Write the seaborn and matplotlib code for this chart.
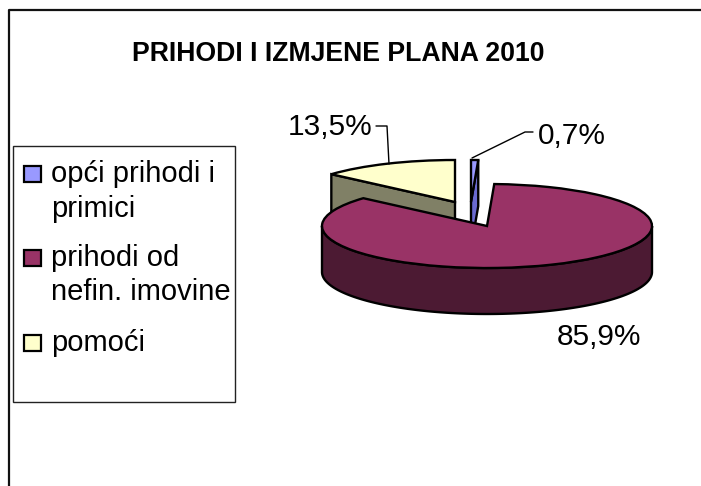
import numpy as np
import matplotlib.pyplot as plt
import seaborn as sns
from matplotlib.patches import Rectangle

sns.set_theme(style='white')
plt.rcParams['font.family'] = ['Liberation Sans', 'DejaVu Sans']

categories = ['opći prihodi i', 'primici', 'prihodi od', 'nefin. imovine', 'pomoći']
legend_colors = ['#9999ff', None, '#993366', None, '#ffffcc']
values = [0.7, 85.9, 13.5]
value_labels = ['0,7%', '85,9%', '13,5%']
top_colors = ['#9999ff', '#993366', '#ffffcc']
wall_colors = ['#6a6ad0', '#4c1a33', '#808066']

W, H = 701, 486
# pie centre and radii in pixels, side height of the 3d look
CX, CY, RX, RY, DEPTH = 487, 226, 165, 42, 46
# slices pulled out of the pie, in pixels
offsets = [(-16, 24), (0, 0), (-32, 24)]
LW = 1.7

fig = plt.figure(figsize=(W / 100, H / 100), dpi=100)
ax = fig.add_axes([0, 0, 1, 1])
wedges, _ = ax.pie(values, colors=top_colors, startangle=90, counterclock=False,
                   wedgeprops={'edgecolor': 'black', 'linewidth': LW})
ax.set_aspect('auto')
ax.set_xlim(-CX / RX, (W - CX) / RX)
ax.set_ylim((CY - H) / RY, CY / RY)
ax.axis('off')
depth = DEPTH / RY

for w, (dx, dy) in zip(wedges, offsets):
    w.set_center((dx / RX, dy / RY))

# maroon front wall
w = wedges[1]
t = np.radians(np.linspace(-180, 0, 200))
xs = np.cos(t)
ys = np.sin(t)
ax.fill(np.r_[xs, xs[::-1]], np.r_[ys, ys[::-1] - depth], facecolor=wall_colors[1],
        edgecolor='black', linewidth=LW, zorder=4)
w.set_zorder(5)

# cut faces of the two pulled slices
for i, ang in [(2, wedges[2].theta2), (0, wedges[0].theta1)]:
    dx, dy = offsets[i]
    cx, cy = dx / RX, dy / RY
    ex = cx + np.cos(np.radians(ang))
    ey = cy + np.sin(np.radians(ang))
    ax.fill([cx, ex, ex, cx], [cy, ey, ey - depth, cy - depth], facecolor=wall_colors[i],
            edgecolor='black', linewidth=LW, zorder=2)
    wedges[i].set_zorder(3)


def to_fig(x, y):
    return x / W, 1 - y / H


# chart frame
fig.add_artist(plt.Line2D([9 / W, 9 / W, 1], [0, 1 - 10.5 / H, 1 - 10.5 / H], color='#111111', lw=1.6))

fig.text(*to_fig(338, 54), 'PRIHODI I IZMJENE PLANA 2010', fontsize=19.2, fontweight='bold',
         color='black', ha='center', va='center')

# value labels with leader lines
fig.text(*to_fig(538, 136), value_labels[0], fontsize=21.5, color='black', ha='left', va='center')
fig.text(*to_fig(372, 127), value_labels[2], fontsize=21.5, color='black', ha='right', va='center')
fig.text(*to_fig(557, 337), value_labels[1], fontsize=21.5, color='black', ha='left', va='center')
fig.add_artist(plt.Line2D([472 / W, 525 / W, 533 / W], [1 - 158 / H, 1 - 132 / H, 1 - 132 / H], color='black', lw=1))
fig.add_artist(plt.Line2D([376 / W, 387 / W, 389 / W], [1 - 126 / H, 1 - 126 / H, 1 - 164 / H], color='black', lw=1))

# legend box
fig.add_artist(Rectangle((13 / W, 1 - 402 / H), 222 / W, 256 / H, transform=fig.transFigure,
                         facecolor='white', edgecolor='#222222', lw=1))
for label, col, y0 in zip(categories, legend_colors, [174, 209, 258, 292, 343]):
    if col is not None:
        fig.add_artist(Rectangle((24 / W, 1 - (y0 + 8) / H), 17 / W, 16 / H, transform=fig.transFigure,
                                 facecolor=col, edgecolor='black', lw=1.6))
    fig.text(*to_fig(51, y0), label, fontsize=21, color='black', ha='left', va='center')

fig.savefig('out.png', dpi=100)
